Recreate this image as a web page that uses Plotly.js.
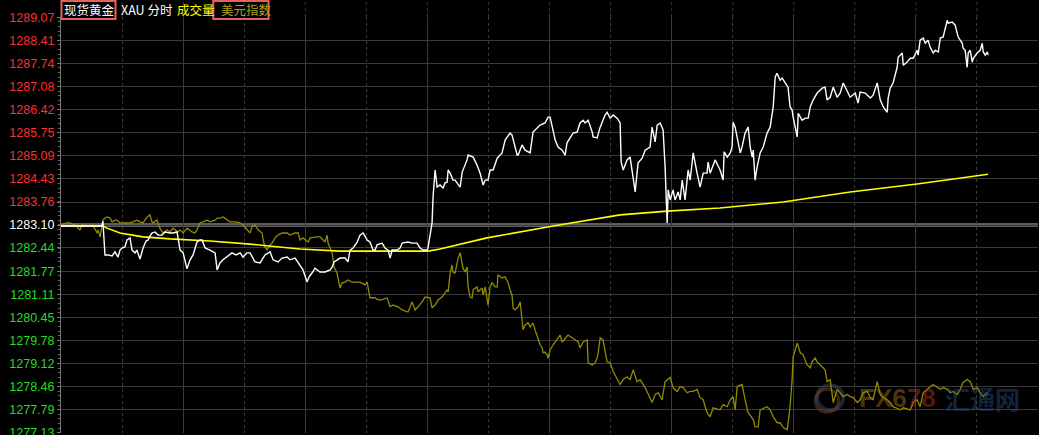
<!DOCTYPE html>
<html><head><meta charset="utf-8">
<script src="https://cdn.plot.ly/plotly-3.0.1.min.js"></script>
<style>html,body{margin:0;padding:0;background:#000;overflow:hidden}#chart{width:1039px;height:435px}</style>
</head><body><div id="chart"></div>
<script>
// time in minutes since session start, price in USD
const prevClose = 1283.10;
const tickLabels = ['1289.07','1288.41','1287.74','1287.08','1286.42','1285.75','1285.09','1284.43','1283.76','1283.10','1282.44','1281.77','1281.11','1280.45','1279.78','1279.12','1278.46','1277.79','1277.13'];
const headerTexts = ['现货黄金', 'XAU 分时', '成交量', '美元指数'];

// spot gold price (white line): [minute, price]
const gold = [[0,1283.07],[9.3,1283.07],[19.2,1283.07],[20.1,1283.07],[20.6,1283.21],[21.6,1282.24],[23.1,1282.24],[25.1,1282.21],[26.5,1282.33],[28.0,1282.18],[29.0,1282.38],[30.0,1282.44],[31.4,1282.47],[32.4,1282.67],[33.9,1282.73],[34.9,1282.38],[36.4,1282.30],[37.3,1282.38],[38.8,1282.12],[40.3,1282.44],[41.8,1282.64],[42.8,1282.67],[43.7,1282.78],[44.7,1282.87],[46.2,1282.90],[47.7,1282.81],[49.6,1282.81],[51.1,1282.90],[53.6,1282.87],[55.0,1282.87],[57.0,1282.90],[57.5,1282.76],[58.5,1282.38],[60.0,1282.30],[60.9,1282.04],[61.9,1281.84],[63.4,1282.10],[64.9,1282.24],[66.8,1282.61],[68.3,1282.67],[69.3,1282.67],[70.8,1282.44],[73.2,1282.38],[75.7,1282.30],[76.7,1281.81],[78.1,1282.01],[79.6,1282.10],[81.6,1282.18],[84.0,1282.30],[86.0,1282.24],[88.0,1282.30],[89.4,1282.18],[91.4,1282.30],[92.9,1282.30],[93.9,1282.18],[95.3,1282.04],[97.8,1282.01],[100.2,1282.24],[102.7,1282.33],[104.2,1282.10],[106.6,1282.04],[108.6,1282.15],[111.1,1282.18],[112.5,1282.10],[115.0,1282.15],[116.5,1282.01],[118.9,1281.81],[120.9,1281.46],[121.9,1281.61],[123.3,1281.72],[124.8,1281.86],[127.3,1281.75],[129.7,1281.75],[132.2,1281.81],[133.2,1281.89],[134.2,1282.04],[135.6,1282.10],[137.1,1282.15],[139.6,1282.15],[141.0,1282.04],[142.0,1282.38],[143.5,1282.44],[145.5,1282.61],[146.9,1282.81],[148.4,1282.87],[150.4,1282.67],[151.8,1282.61],[153.3,1282.38],[154.3,1282.38],[155.3,1282.53],[157.7,1282.58],[159.2,1282.44],[160.7,1282.38],[161.7,1282.15],[162.7,1282.38],[165.1,1282.38],[166.6,1282.44],[167.6,1282.58],[170.5,1282.61],[172.5,1282.58],[174.9,1282.58],[176.4,1282.44],[177.9,1282.38],[179.9,1282.38],[180.3,1282.44],[181.3,1282.87],[182.3,1283.16],[182.8,1283.91],[183.8,1284.68],[184.8,1284.19],[186.2,1284.25],[187.7,1284.16],[188.7,1284.31],[189.7,1284.33],[190.2,1284.68],[191.2,1284.59],[192.6,1284.39],[193.6,1284.39],[195.1,1284.25],[196.1,1284.19],[197.1,1284.62],[198.5,1284.82],[199.5,1284.97],[200.0,1285.11],[202.5,1285.05],[204.4,1284.82],[205.9,1284.59],[207.4,1284.25],[208.4,1284.39],[209.8,1284.39],[210.8,1284.68],[212.3,1284.68],[214.3,1285.02],[216.7,1285.17],[218.2,1285.54],[220.6,1285.74],[221.6,1285.68],[223.1,1285.34],[224.1,1285.11],[224.6,1285.11],[226.5,1285.40],[228.0,1285.25],[230.5,1285.17],[231.9,1285.77],[233.9,1285.88],[235.4,1285.97],[237.8,1286.03],[239.3,1286.20],[240.3,1286.20],[241.3,1285.91],[242.8,1285.54],[244.2,1285.34],[246.2,1285.25],[247.7,1285.11],[248.6,1285.46],[250.1,1285.60],[251.6,1285.74],[253.6,1285.77],[255.0,1286.03],[256.5,1286.11],[257.5,1286.03],[259.0,1286.11],[261.0,1285.77],[261.4,1285.63],[263.4,1285.60],[264.9,1285.91],[266.3,1286.11],[267.3,1286.26],[268.3,1286.34],[269.8,1286.17],[271.3,1286.26],[273.2,1286.17],[274.7,1286.03],[275.2,1284.91],[276.2,1284.68],[278.1,1284.97],[279.6,1285.05],[281.1,1284.39],[282.1,1284.05],[283.5,1284.88],[285.5,1285.02],[287.0,1285.25],[289.4,1285.34],[290.4,1285.91],[291.9,1285.49],[292.9,1285.97],[294.4,1286.03],[295.8,1285.83],[296.8,1284.77],[297.8,1283.16],[298.3,1284.11],[299.3,1283.82],[300.7,1284.11],[301.7,1283.82],[303.2,1284.05],[304.2,1283.82],[305.2,1284.39],[306.6,1283.82],[308.1,1284.68],[309.1,1284.39],[310.6,1285.17],[312.5,1284.59],[314.0,1284.19],[315.5,1284.59],[317.4,1284.59],[317.9,1284.91],[318.9,1284.59],[321.4,1284.97],[323.8,1284.68],[325.3,1284.39],[325.8,1285.20],[327.3,1285.05],[328.8,1285.17],[329.7,1285.34],[330.2,1286.05],[331.2,1285.91],[332.2,1285.63],[332.7,1285.46],[333.7,1285.17],[334.6,1285.34],[336.1,1285.74],[337.6,1285.91],[338.6,1285.34],[339.6,1285.05],[340.1,1285.25],[341.0,1284.39],[342.0,1284.77],[343.5,1285.17],[345.0,1285.34],[346.9,1285.74],[348.4,1285.91],[349.9,1286.49],[350.9,1287.35],[351.8,1287.46],[353.3,1287.26],[354.3,1287.32],[355.8,1287.18],[357.2,1287.06],[358.2,1286.49],[359.2,1286.40],[359.7,1286.20],[361.7,1285.63],[362.2,1286.31],[364.1,1286.11],[365.6,1286.17],[367.1,1286.17],[368.1,1286.49],[369.5,1286.69],[371.5,1286.89],[373.0,1286.97],[374.0,1287.03],[375.4,1287.06],[376.4,1286.69],[377.9,1286.77],[379.4,1287.06],[381.3,1286.77],[382.8,1286.89],[384.3,1287.18],[386.2,1286.97],[387.7,1286.77],[390.2,1286.89],[391.2,1286.69],[391.6,1286.60],[392.6,1286.92],[395.1,1286.89],[397.6,1286.75],[399.0,1286.83],[401.0,1287.18],[402.5,1286.69],[404.0,1286.49],[404.9,1286.40],[405.9,1286.34],[406.4,1286.75],[407.4,1287.03],[408.8,1287.18],[410.8,1287.63],[411.3,1287.92],[413.3,1288.04],[413.8,1287.69],[415.7,1287.78],[417.2,1287.89],[418.7,1287.89],[420.6,1288.12],[421.1,1287.98],[422.1,1288.41],[423.6,1288.47],[424.6,1288.32],[426.0,1288.41],[427.0,1288.21],[428.5,1288.04],[429.5,1288.12],[431.0,1288.07],[432.0,1288.47],[433.4,1288.50],[435.4,1288.98],[435.9,1288.90],[437.8,1288.93],[439.3,1288.84],[440.3,1288.61],[440.8,1288.50],[442.8,1288.32],[443.2,1288.18],[444.2,1288.12],[445.2,1287.63],[445.7,1288.04],[446.7,1288.12],[447.7,1287.78],[448.2,1287.89],[450.1,1288.04],[451.6,1288.12],[452.6,1288.32],[453.1,1288.07],[454.1,1287.98],[455.1,1288.07],[455.5,1287.98]];

// average price (yellow line)
const avgLine = [[0,1283.07],[20.6,1283.07],[22.6,1283.01],[29.0,1282.87],[40.3,1282.76],[53.6,1282.70],[73.2,1282.64],[92.9,1282.55],[117.4,1282.41],[137.1,1282.35],[156.8,1282.35],[180.3,1282.35],[186.2,1282.41],[209.3,1282.73],[241.8,1283.07],[274.7,1283.39],[297.8,1283.50],[323.8,1283.59],[354.8,1283.76],[387.7,1284.05],[420.6,1284.28],[455.5,1284.56]];

// US dollar index overlay (olive line), expressed on the gold price scale
const usdIndex = [[0,1283.10],[2.9,1283.16],[4.4,1283.16],[6.9,1283.10],[9.3,1282.96],[10.3,1283.10],[14.3,1283.07],[15.7,1283.10],[17.7,1282.87],[18.2,1282.96],[19.2,1282.76],[20.1,1283.01],[20.6,1283.24],[21.6,1283.30],[22.6,1283.33],[24.1,1283.30],[25.1,1283.19],[26.5,1283.24],[27.5,1283.24],[29.0,1283.16],[31.4,1283.16],[33.9,1283.16],[35.4,1283.19],[37.3,1283.24],[38.8,1283.19],[40.3,1283.16],[42.3,1283.33],[43.7,1283.39],[44.7,1283.19],[45.2,1283.16],[47.2,1283.24],[48.6,1283.01],[50.1,1282.87],[52.1,1282.96],[53.6,1282.90],[55.0,1283.01],[57.5,1282.90],[58.5,1282.96],[60.0,1282.87],[61.9,1283.01],[64.4,1282.90],[65.8,1282.87],[66.8,1282.96],[68.3,1283.16],[69.8,1283.19],[71.7,1283.24],[73.2,1283.19],[75.7,1283.24],[76.7,1283.30],[78.1,1283.30],[79.6,1283.33],[81.6,1283.24],[83.0,1283.19],[85.5,1283.19],[88.0,1283.16],[89.4,1283.10],[91.4,1282.96],[92.9,1282.87],[93.9,1283.07],[95.3,1283.10],[96.8,1282.96],[98.8,1282.87],[99.3,1282.67],[100.2,1282.47],[101.2,1282.38],[102.7,1282.53],[103.7,1282.58],[105.2,1282.73],[106.6,1282.81],[108.6,1282.87],[111.1,1282.87],[112.5,1282.81],[115.0,1282.87],[116.5,1282.87],[117.4,1282.67],[118.9,1282.73],[121.4,1282.61],[122.4,1282.73],[125.8,1282.76],[127.3,1282.76],[129.7,1282.61],[130.7,1282.81],[131.2,1282.58],[133.2,1282.30],[134.2,1281.89],[135.6,1281.72],[137.1,1281.29],[138.1,1281.44],[139.6,1281.46],[141.0,1281.52],[143.0,1281.46],[145.5,1281.46],[146.9,1281.46],[149.4,1281.38],[150.4,1281.46],[151.8,1281.01],[152.8,1281.01],[154.3,1281.01],[155.8,1280.95],[157.7,1280.95],[160.2,1281.01],[161.7,1280.75],[163.1,1280.80],[165.6,1280.75],[167.6,1280.66],[170.5,1280.60],[172.5,1280.89],[174.0,1280.66],[175.4,1280.75],[177.4,1280.89],[178.9,1281.03],[181.3,1281.01],[182.3,1280.72],[183.8,1280.80],[185.3,1280.95],[187.2,1281.03],[188.7,1281.15],[189.7,1281.24],[190.2,1281.18],[191.2,1281.72],[192.1,1281.95],[192.6,1281.75],[193.6,1281.72],[194.6,1282.04],[195.1,1282.15],[196.1,1282.30],[197.1,1282.01],[197.5,1281.86],[198.5,1281.75],[199.5,1281.89],[200.0,1281.32],[201.0,1281.03],[202.0,1281.01],[202.5,1281.24],[204.4,1281.32],[204.9,1281.18],[206.9,1281.29],[207.4,1281.09],[208.4,1281.32],[209.3,1281.03],[209.8,1280.80],[210.8,1281.32],[211.8,1281.44],[213.3,1281.32],[214.3,1281.32],[214.7,1281.67],[215.7,1281.61],[216.7,1281.58],[218.2,1281.61],[219.2,1281.46],[219.7,1281.44],[220.6,1281.24],[221.6,1281.09],[222.1,1280.72],[223.1,1280.66],[224.6,1280.75],[225.6,1280.89],[226.5,1280.37],[227.0,1280.09],[228.0,1280.23],[229.5,1280.29],[230.5,1280.17],[231.9,1280.29],[232.9,1280.09],[234.4,1279.86],[235.4,1279.66],[236.4,1279.57],[236.9,1279.43],[237.8,1279.45],[238.8,1279.37],[239.3,1279.28],[240.3,1279.51],[241.8,1279.66],[242.8,1279.74],[244.2,1279.86],[245.2,1279.94],[246.2,1279.74],[247.7,1279.86],[249.1,1279.94],[251.1,1279.86],[252.6,1279.80],[254.1,1279.74],[255.0,1279.57],[256.5,1279.74],[258.5,1279.80],[259.0,1279.14],[261.0,1279.08],[262.4,1279.14],[263.4,1279.28],[263.9,1279.43],[264.9,1279.86],[266.3,1279.80],[268.3,1279.17],[269.8,1279.14],[271.3,1278.89],[273.2,1278.66],[274.7,1278.52],[276.2,1278.66],[278.1,1278.74],[279.6,1278.66],[281.1,1278.94],[283.0,1278.60],[284.5,1278.66],[287.0,1278.43],[288.5,1278.23],[290.4,1278.00],[291.9,1278.23],[293.4,1278.28],[295.3,1278.08],[296.8,1278.60],[299.3,1278.72],[300.7,1278.43],[302.7,1278.32],[304.2,1278.46],[305.7,1278.43],[307.6,1278.28],[309.1,1278.32],[310.6,1278.32],[312.5,1278.38],[314.0,1278.14],[315.5,1278.08],[317.4,1277.71],[318.9,1277.59],[320.4,1277.85],[323.8,1277.79],[325.3,1277.94],[327.3,1277.88],[328.8,1278.08],[330.2,1278.17],[331.2,1277.79],[332.2,1278.46],[334.6,1278.52],[336.1,1278.08],[337.6,1277.71],[340.1,1277.51],[341.0,1277.30],[342.5,1277.30],[343.5,1277.79],[346.9,1277.88],[348.4,1277.79],[349.9,1277.59],[351.8,1277.42],[353.3,1277.42],[354.8,1277.28],[356.8,1277.22],[358.2,1277.88],[359.2,1278.66],[359.7,1279.31],[361.7,1279.71],[363.2,1279.43],[364.6,1279.37],[366.6,1279.08],[368.1,1279.00],[369.0,1279.17],[370.5,1279.28],[371.5,1279.17],[373.0,1279.08],[375.4,1278.94],[376.4,1278.60],[377.9,1278.66],[379.4,1278.00],[381.3,1278.38],[382.8,1278.28],[384.3,1278.17],[386.2,1278.23],[387.7,1278.17],[389.2,1278.14],[391.2,1278.00],[392.6,1278.08],[394.1,1278.28],[396.1,1278.32],[397.6,1278.14],[399.0,1278.08],[401.0,1278.60],[402.5,1278.23],[404.0,1278.14],[405.9,1278.08],[407.4,1278.00],[408.8,1277.88],[412.3,1277.79],[413.8,1277.85],[417.2,1277.79],[418.7,1278.00],[420.6,1278.08],[422.1,1277.88],[423.6,1278.28],[425.6,1278.38],[427.0,1278.46],[428.5,1278.52],[432.0,1278.38],[433.4,1278.43],[435.4,1278.38],[436.9,1278.28],[438.3,1278.32],[440.3,1278.23],[441.8,1278.38],[443.2,1278.58],[445.2,1278.66],[446.7,1278.60],[448.2,1278.38],[450.1,1278.43],[451.6,1278.28],[453.1,1278.17],[455.1,1278.28]];

const col = (arr, i) => arr.map(r => r[i]);
const tickVals = tickLabels.map(Number);
const tickText = tickLabels.map(s => {
  const v = Number(s);
  const c = v > prevClose + 1e-6 ? '#ff2e2e' : (v < prevClose - 1e-6 ? '#20dd20' : '#ffffff');
  return '<span style="color:' + c + '">' + s + '</span>';
});

const traces = [
  {x: col(usdIndex,0), y: col(usdIndex,1), type: 'scatter', mode: 'lines', line: {color: '#918b00', width: 1.3}, hoverinfo: 'skip'},
  {x: col(avgLine,0), y: col(avgLine,1), type: 'scatter', mode: 'lines', line: {color: '#ffff00', width: 1.6}, hoverinfo: 'skip'},
  {x: col(gold,0), y: col(gold,1), type: 'scatter', mode: 'lines', line: {color: '#ffffff', width: 1.4}, hoverinfo: 'skip'}
];

// header dotted gridline stubs above plot area
const shapes = [];
for (let k = 1; k < 16; k++) {
  shapes.push({type: 'line', xref: 'x', yref: 'paper', x0: k * 30, x1: k * 30, y0: 1, y1: 1.045,
    line: {color: '#3a3a3a', width: 1, dash: 'dot'}, layer: 'below'});
}
shapes.push({type: 'line', xref: 'paper', yref: 'y', x0: 0, x1: 1, y0: prevClose, y1: prevClose,
  line: {color: '#5c5c5c', width: 4}, layer: 'below'});
shapes.push({type: 'rect', xref: 'paper', yref: 'paper', x0: 0.0005, x1: 0.0558, y0: 0.9952, y1: 1.0385,
  line: {color: '#e8605a', width: 2}});
shapes.push({type: 'rect', xref: 'paper', yref: 'paper', x0: 0.1559, x1: 0.2124, y0: 0.9952, y1: 1.0385,
  line: {color: '#e8605a', width: 2}});
// watermark logo rings
shapes.push({type: 'circle', xref: 'paper', yref: 'paper', x0: 0.7738, x1: 0.8004, y0: 0.055, y1: 0.115,
  line: {color: 'rgba(40,70,110,0.55)', width: 4}, layer: 'below'});
shapes.push({type: 'circle', xref: 'paper', yref: 'paper', x0: 0.7720, x1: 0.7960, y0: 0.050, y1: 0.105,
  line: {color: 'rgba(150,70,20,0.45)', width: 3}, layer: 'below'});

const hy = 1.0192;
const cjk = '"Noto Sans CJK SC", sans-serif';
const annotations = [
  {text: headerTexts[0], xref: 'paper', yref: 'paper', x: 0.001, y: hy, xanchor: 'left', yanchor: 'middle', showarrow: false, font: {family: cjk, size: 12.5, color: '#ffffff'}},
  {text: headerTexts[1], xref: 'paper', yref: 'paper', x: 0.0595, y: hy, xanchor: 'left', yanchor: 'middle', showarrow: false, font: {family: cjk, size: 12.5, color: '#ffffff'}},
  {text: headerTexts[2], xref: 'paper', yref: 'paper', x: 0.1170, y: hy, xanchor: 'left', yanchor: 'middle', showarrow: false, font: {family: cjk, size: 12.5, color: '#ffff00'}},
  {text: headerTexts[3], xref: 'paper', yref: 'paper', x: 0.1618, y: hy, xanchor: 'left', yanchor: 'middle', showarrow: false, font: {family: cjk, size: 12.5, color: '#a8a020'}},
  {text: '<b><span style="color:rgba(170,120,30,0.45)">FX6</span><span style="color:rgba(170,50,30,0.5)">78</span></b>', xref: 'paper', yref: 'paper', x: 0.8150, y: 0.084, xanchor: 'left', yanchor: 'middle', showarrow: false, font: {family: 'Liberation Sans, sans-serif', size: 26}},
  {text: '<b>汇通网</b>', xref: 'paper', yref: 'paper', x: 0.9030, y: 0.084, xanchor: 'left', yanchor: 'middle', showarrow: false, font: {family: cjk, size: 25, color: 'rgba(40,80,130,0.45)'}}
];

const layout = {
  width: 1039, height: 435,
  margin: {l: 61, r: 1, t: 17, b: 2, pad: 0},
  paper_bgcolor: '#000000', plot_bgcolor: '#000000',
  showlegend: false,
  xaxis: {range: [0, 480], tickmode: 'linear', tick0: 0, dtick: 60, showgrid: true, gridcolor: '#3a3a3a', gridwidth: 1,
    showticklabels: false, ticks: '', zeroline: false, showline: false, fixedrange: true,
    minor: {tickmode: 'linear', tick0: 30, dtick: 60, showgrid: true, gridcolor: '#3a3a3a', griddash: 'dot', gridwidth: 1}},
  yaxis: {range: [1277.125, 1289.075], tickmode: 'array', tickvals: tickVals, ticktext: tickText,
    ticklabeloverflow: 'allow',
    showgrid: true, gridcolor: '#3a3a3a', gridwidth: 1, zeroline: false,
    showline: true, linecolor: '#7a7a7a', linewidth: 1, ticks: 'outside', ticklen: 3, tickcolor: '#7a7a7a',
    tickfont: {family: 'Liberation Sans, Arial, sans-serif', size: 12.5, color: '#ff3030'},
    minor: {tickmode: 'linear', tick0: 1277.13, dtick: 0.13267, ticks: 'outside', ticklen: 2, tickcolor: '#6a6a6a', showgrid: false},
    fixedrange: true},
  shapes: shapes,
  annotations: annotations
};

Plotly.newPlot('chart', traces, layout, {displayModeBar: false, staticPlot: true});
</script>
</body></html>
